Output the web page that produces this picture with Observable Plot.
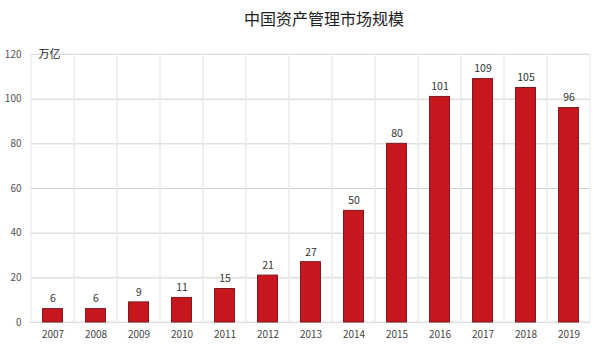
<!DOCTYPE html>
<html>
<head>
<meta charset="utf-8">
<script src="https://cdn.jsdelivr.net/npm/d3@7"></script>
<script src="https://cdn.jsdelivr.net/npm/@observablehq/plot@0.6"></script>
<style>
  html, body { margin: 0; padding: 0; background: #fff; }
  body { width: 600px; height: 355px; overflow: hidden; font-family: "Noto Sans CJK SC", "Noto Sans", sans-serif; }
  #title { height: 36px; line-height: 36px; text-align: center; font-size: 16px; color: #222; padding-left: 48px; }
</style>
</head>
<body>
<div id="title">中国资产管理市场规模</div>
<div id="chart"></div>
<script>
const years = ["2007","2008","2009","2010","2011","2012","2013","2014","2015","2016","2017","2018","2019"];
const values = [6, 6, 9, 11, 15, 21, 27, 50, 80, 101, 109, 105, 96];
const yTicks = [0, 20, 40, 60, 80, 100, 120];
const unitLabel = "万亿";

const data = years.map((y, i) => ({year: y, value: values[i]}));

const chart = Plot.plot({
  width: 600,
  height: 319,
  marginTop: 18,
  marginBottom: 33,
  marginLeft: 30,
  marginRight: 10,
  style: {fontFamily: "'Noto Sans CJK SC', 'Noto Sans', sans-serif", fontSize: "10px", color: "#555", background: "#fff"},
  x: {domain: years, padding: 0, label: null},
  y: {domain: [0, 120], ticks: yTicks, label: null},
  marks: [
    Plot.gridY(yTicks, {stroke: "#cfcfcf", strokeOpacity: 1}),
    Plot.cell(years, {x: d => d, fill: "none", stroke: "#e9e9e9"}),
    Plot.barY(data, {x: "year", y: "value", fill: "#c8161e", stroke: "#7d1a1e", strokeWidth: 1, insetLeft: 11.5, insetRight: 11.5}),
    Plot.text(data, {x: "year", y: "value", text: d => String(d.value), dy: -10, fill: "#333", fontSize: 10.5}),
    Plot.axisY(yTicks, {tickSize: 0, tickPadding: 9, fill: "#555", fontSize: 10, label: null}),
    Plot.axisX(years, {tickSize: 0, tickPadding: 8, fill: "#444", fontSize: 10, label: null}),
    Plot.text([unitLabel], {frameAnchor: "top-left", dx: 8, dy: 0, text: d => d, lineAnchor: "middle", textAnchor: "start", fill: "#222", fontSize: 11})
  ]
});
document.getElementById("chart").appendChild(chart);
</script>
</body>
</html>
